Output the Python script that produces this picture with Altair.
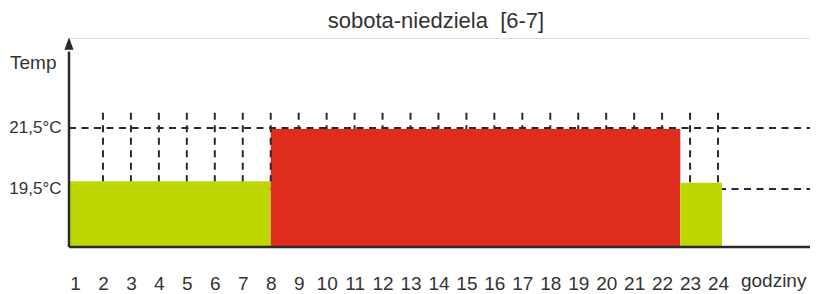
import altair as alt
import pandas as pd

# ---- data ----
hours = list(range(1, 25))                      # x tick labels
seg_start = [0.785, 8.0, 22.65]                 # hour where each block starts
seg_end = [8.0, 22.65, 24.14]                   # hour where each block ends
seg_temp = [19.75, 21.47, 19.7]                 # block heights (°C)
seg_kind = ["eco", "comfort", "eco"]
levels = [19.5, 21.5]                           # labelled temperature levels
grid_hours = list(range(2, 25))                 # vertical dashed guides
grid_bottom = [19.75] * 7 + [21.47] * 14 + [19.7] * 2
grid_top = 22.0
title_text = ["sobota-niedziela\u00a0 [6-7]"]
unit_text = ["godziny"]

X0, X1 = 0.785, 27.29
Y0, Y1 = 17.63, 24.45
W, H = 741, 208
FONT = "Liberation Sans"
INK = "#2a2a2a"
TXT = "#333333"
GREEN = "#BFD700"
RED = "#DE2D1F"

xs = alt.Scale(domain=[X0, X1], nice=False, zero=False)
ys = alt.Scale(domain=[Y0, Y1], nice=False, zero=False)

xa = alt.Axis(values=hours, labelFontSize=19, labelFont=FONT, labelColor=TXT,
              ticks=False, tickSize=0, domain=False, grid=False, labelPadding=28,
              labelOverlap=False, labelFlush=False, title=None)
ya = alt.Axis(values=levels, labelFontSize=17, labelFont=FONT, labelColor=TXT,
              labelExpr="replace(format(datum.value, '.1f'), '.', ',') + '°C'",
              ticks=False, tickSize=0, domain=False, grid=False, labelPadding=8,
              labelOverlap=False, labelBaseline="middle",
              title="Temp", titleAngle=0, titleX=-13, titleY=24, titleAlign="right",
              titleBaseline="middle", titleFontSize=19, titleFont=FONT,
              titleFontWeight="normal", titleColor=TXT)

seg_df = pd.DataFrame({"start": seg_start, "end": seg_end, "temp": seg_temp,
                       "kind": seg_kind, "base": [Y0] * 3})
lev_df = pd.DataFrame({"level": levels, "x": [X0] * 2, "x2": [X1] * 2})
grid_df = pd.DataFrame({"hour": grid_hours, "bottom": grid_bottom,
                        "top": [grid_top] * len(grid_hours)})
base_df = pd.DataFrame({"x": [X0], "x2": [X1], "y": [17.6], "y2": [24.0], "ya": [24.27]})
title_df = pd.DataFrame({"t": title_text, "x": [13.91], "y": [24.78]})
unit_df = pd.DataFrame({"t": unit_text, "x": [24.82], "y": [16.27]})

level_lines = alt.Chart(lev_df).mark_rule(
    strokeDash=[7, 5.5], strokeWidth=2, color=INK
).encode(
    x=alt.X("x:Q", scale=xs, axis=xa), x2="x2:Q",
    y=alt.Y("level:Q", scale=ys, axis=ya),
)

bars = alt.Chart(seg_df).mark_rect().encode(
    x=alt.X("start:Q", scale=xs, axis=xa), x2="end:Q",
    y=alt.Y("temp:Q", scale=ys, axis=ya), y2="base:Q",
    color=alt.Color("kind:N", scale=alt.Scale(domain=["eco", "comfort"], range=[GREEN, RED]),
                    legend=None),
)

guides = alt.Chart(grid_df).mark_rule(
    strokeDash=[7, 5.5], strokeWidth=2, color=INK
).encode(
    x=alt.X("hour:Q", scale=xs, axis=xa),
    y=alt.Y("top:Q", scale=ys, axis=ya), y2="bottom:Q",
)

baseline = alt.Chart(base_df).mark_rule(strokeWidth=2.5, color=INK).encode(
    x=alt.X("x:Q", scale=xs, axis=xa), x2="x2:Q",
    y=alt.Y("y:Q", scale=ys, axis=ya),
)

yaxis_line = alt.Chart(base_df).mark_rule(strokeWidth=2.5, color=INK).encode(
    x=alt.X("x:Q", scale=xs, axis=xa),
    y=alt.Y("y:Q", scale=ys, axis=ya), y2="y2:Q",
)

arrow = alt.Chart(base_df).mark_point(
    shape="M0,-1L0.72,1L-0.72,1Z", filled=True, size=160, color=INK, opacity=1
).encode(
    x=alt.X("x:Q", scale=xs, axis=xa),
    y=alt.Y("ya:Q", scale=ys, axis=ya),
)

title = alt.Chart(title_df).mark_text(
    fontSize=22, font=FONT, color=TXT, align="center", baseline="alphabetic"
).encode(
    x=alt.X("x:Q", scale=xs, axis=xa),
    y=alt.Y("y:Q", scale=ys, axis=ya),
    text="t:N",
)

unit = alt.Chart(unit_df).mark_text(
    fontSize=19, font=FONT, color=TXT, align="left", baseline="alphabetic"
).encode(
    x=alt.X("x:Q", scale=xs, axis=xa),
    y=alt.Y("y:Q", scale=ys, axis=ya),
    text="t:N",
)

chart = alt.layer(
    level_lines, bars, guides, baseline, yaxis_line, arrow, title, unit
).properties(
    width=W, height=H,
    padding={"left": 61, "top": 30, "right": 0, "bottom": 48},
    autosize=alt.AutoSizeParams(type="none"),
).configure_view(stroke=None).configure(background="white")

chart.save("out.html", embed_options={"renderer": "svg", "actions": False})
